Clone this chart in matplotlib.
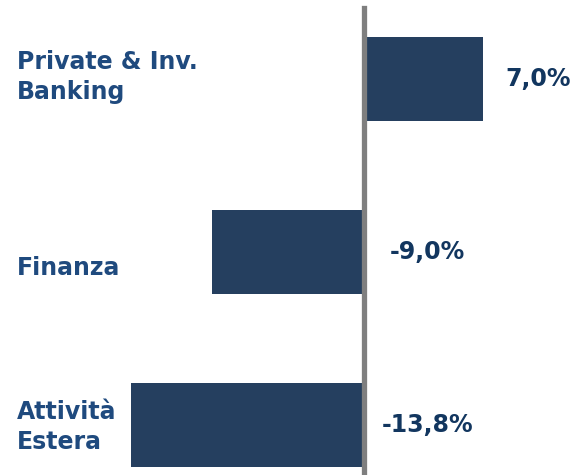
import matplotlib
matplotlib.use("Agg")
from matplotlib import pyplot as plt

categories = ["Private & Inv.\nBanking", "Finanza", "Attività\nEstera"]
values = [7.0, -9.0, -13.8]
value_labels = ["7,0%", "-9,0%", "-13,8%"]

bar_color = "#253F5F"
label_color = "#1F4A7E"
value_color = "#12365F"

fig = plt.figure(figsize=(5.72, 4.75), dpi=100)
ax = fig.add_axes([0, 0, 1, 1])

pos = list(range(len(values)))
ax.barh(pos, values, height=0.486, color=bar_color, zorder=2)

px = 16.9  # pixels per percent point
ax.set_xlim(-364.5 / px, (572 - 364.5) / px)
ax.set_ylim((475 - 79) / 173, -79 / 173)
ax.axis("off")

# vertical zero line
ax.axvline(0, ymin=0, ymax=1 - 8 / 475, color="#7F7F7F", lw=3.8, zorder=3)

# category labels on the left
label_shift = [-0.01, 0.09, 0.01]
for y, name, dy in zip(pos, categories, label_shift):
    ax.text(17 / 572, y + dy, name, transform=ax.get_yaxis_transform(),
            ha="left", va="center", fontsize=17, fontweight="bold",
            color=label_color, linespacing=1.3)

# value labels
for y, v, lab in zip(pos, values, value_labels):
    if v >= 0:
        ax.text(v + 1.35, y, lab, ha="left", va="center", fontsize=17,
                fontweight="bold", color=value_color)
    else:
        ax.text(3.75, y, lab, ha="center", va="center", fontsize=17,
                fontweight="bold", color=value_color)

fig.savefig("out.png", dpi=100)
